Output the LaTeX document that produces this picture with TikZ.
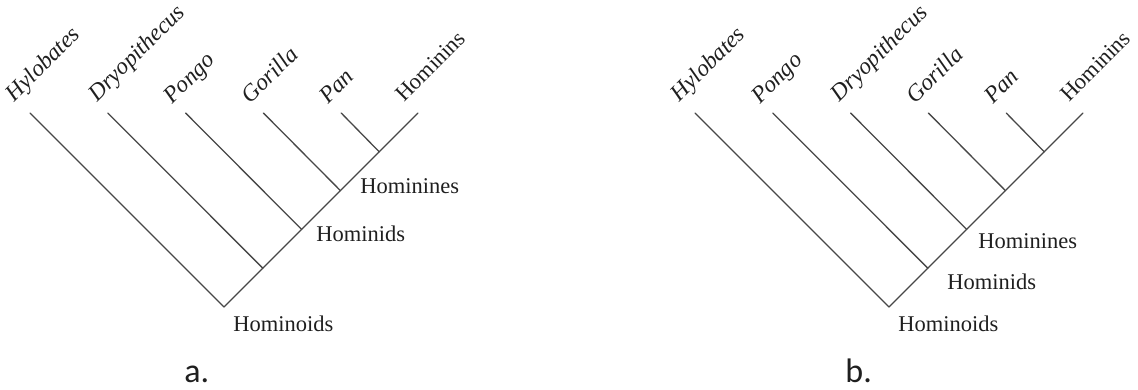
\documentclass[tikz,border=0pt]{standalone}
\usepackage{fontspec}
\setmainfont{Liberation Serif}
\newfontfamily\panelfont{Carlito}
\usetikzlibrary{calc}
\begin{document}
\begin{tikzpicture}[x=0.5pt,y=-0.5pt,
  branch/.style={draw=black!72, line width=0.65pt, line cap=round},
  taxon/.style={font=\fontsize{11.7}{13}\selectfont\itshape, rotate=45, anchor=base west, inner sep=0pt, text=black!88},
  clade/.style={font=\fontsize{11.25}{13}\selectfont, anchor=base west, inner sep=0pt, text=black!88},
  panel/.style={font=\panelfont\fontsize{17}{20}\selectfont, anchor=base west, inner sep=0pt, text=black!88}]
\useasboundingbox (0,0) rectangle (1138,390);

% ---------- tree a ----------
\begin{scope}[name prefix=a-]
  \coordinate (root) at (224,307);
  \coordinate (j1) at (262.8,268.2);
  \coordinate (j2) at (301.6,229.4);
  \coordinate (j3) at (340.4,190.6);
  \coordinate (j4) at (379.2,151.8);
  \coordinate (t6) at (418,113);
  \coordinate (t1) at (30,113);
  \coordinate (t2) at (107.8,113);
  \coordinate (t3) at (185.6,113);
  \coordinate (t4) at (263.4,113);
  \coordinate (t5) at (341.2,113);
  \draw[branch] (root) -- (t6);
  \draw[branch] (root) -- (t1);
  \draw[branch] (j1) -- (t2);
  \draw[branch] (j2) -- (t3);
  \draw[branch] (j3) -- (t4);
  \draw[branch] (j4) -- (t5);
  \node[taxon] (l1) at ($(t1)+(-16,-10)$) {Hylobates};
  \node[taxon] (l2) at ($(t2)+(-11,-10)$) {Dryopithecus};
  \node[taxon] (l3) at ($(t3)+(-13,-8)$) {Pongo};
  \node[taxon] (l4) at ($(t4)+(-13,-8)$) {Gorilla};
  \node[taxon] (l5) at ($(t5)+(-13,-8)$) {Pan};
  \node[taxon, font=\fontsize{11.25}{13}\selectfont] (l6) at ($(t6)+(-14,-10)$) {Hominins};
  \node[clade] (c3) at (360,193) {Hominines};
  \node[clade] (c2) at (316,241) {Hominids};
  \node[clade] (c1) at (233,331) {Hominoids};
  \node[panel] (pa) at (184,382) {a.};
\end{scope}

% ---------- tree b ----------
\begin{scope}[name prefix=b-]
  \coordinate (root) at (889,307);
  \coordinate (j1) at (927.8,268.2);
  \coordinate (j2) at (966.6,229.4);
  \coordinate (j3) at (1005.4,190.6);
  \coordinate (j4) at (1044.2,151.8);
  \coordinate (t6) at (1083,113);
  \coordinate (t1) at (695,113);
  \coordinate (t2) at (772.8,113);
  \coordinate (t3) at (850.6,113);
  \coordinate (t4) at (928.4,113);
  \coordinate (t5) at (1006.2,113);
  \draw[branch] (root) -- (t6);
  \draw[branch] (root) -- (t1);
  \draw[branch] (j1) -- (t2);
  \draw[branch] (j2) -- (t3);
  \draw[branch] (j3) -- (t4);
  \draw[branch] (j4) -- (t5);
  \node[taxon] (l1) at ($(t1)+(-16,-10)$) {Hylobates};
  \node[taxon] (l2) at ($(t2)+(-13,-8)$) {Pongo};
  \node[taxon] (l3) at ($(t3)+(-11,-10)$) {Dryopithecus};
  \node[taxon] (l4) at ($(t4)+(-13,-8)$) {Gorilla};
  \node[taxon] (l5) at ($(t5)+(-13,-8)$) {Pan};
  \node[taxon, font=\fontsize{11.25}{13}\selectfont] (l6) at ($(t6)+(-14,-10)$) {Hominins};
  \node[clade] (c3) at (978,248) {Hominines};
  \node[clade] (c2) at (947,289) {Hominids};
  \node[clade] (c1) at (898,331) {Hominoids};
  \node[panel] (pb) at (845,382) {b.};
\end{scope}
\end{tikzpicture}
\end{document}
